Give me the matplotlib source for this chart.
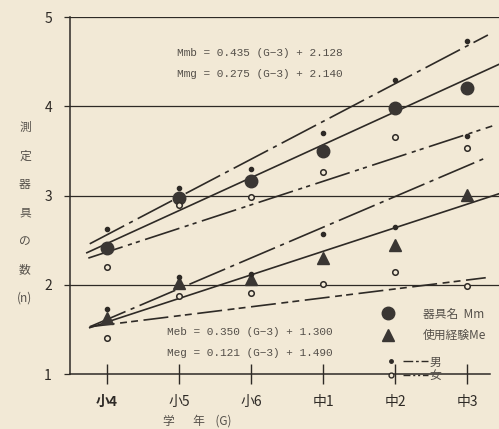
import matplotlib.pyplot as plt
from matplotlib.lines import Line2D
from matplotlib.legend_handler import HandlerTuple

plt.rcParams['font.family'] = ['Noto Sans CJK JP', 'DejaVu Sans']
plt.rcParams['lines.scale_dashes'] = False

grades = ['小4', '小5', '小6', '中1', '中2', '中3']

# measured numbers of instruments (Mm) and experience (Me), boys / all / girls
mm_boy = [2.63, 3.08, 3.30, 3.70, 4.30, 4.73]
mm_all = [2.41, 2.97, 3.16, 3.50, 3.98, 4.21]
mm_girl = [2.20, 2.89, 2.98, 3.26, 3.66, 3.53]
me_boy = [1.73, 2.09, 2.12, 2.57, 2.65, 3.67]
me_all = [1.63, 2.02, 2.07, 2.30, 2.45, 3.01]
me_girl = [1.41, 1.87, 1.91, 2.01, 2.14, 1.99]

# fitted lines, ends (grade index, value)
mmb_x, mmb_y = [-0.24, 5.29], [2.46, 4.80]
mm_x, mm_y = [-0.28, 5.44], [2.36, 4.47]
mmg_x, mmg_y = [-0.26, 5.35], [2.30, 3.78]
meb_x, meb_y = [-0.24, 5.28], [1.53, 3.43]
me_x, me_y = [-0.24, 5.44], [1.52, 3.02]
meg_x, meg_y = [-0.24, 5.26], [1.53, 2.08]

ink = '#2e2a26'
soft = '#55504a'
paper = '#f2e9d6'
boy_dash = (28, 4, 3, 4)
girl_dash = (26, 4, 3, 3, 3, 4)

fig = plt.figure(figsize=(4.99, 4.29), dpi=100, facecolor=paper)
ax = fig.add_axes([0.1403, 0.128, 0.8597, 0.832])
ax.set_facecolor(paper)
x = list(range(len(grades)))

for v in [2, 3, 4, 5]:
    ax.axhline(v, color=ink, lw=0.9, zorder=1)

ax.plot(mmb_x, mmb_y, color=ink, lw=1.2, dashes=boy_dash)
ax.plot(mm_x, mm_y, color=ink, lw=1.2)
ax.plot(mmg_x, mmg_y, color=ink, lw=1.2, dashes=girl_dash)
ax.plot(meb_x, meb_y, color=ink, lw=1.2, dashes=boy_dash)
ax.plot(me_x, me_y, color=ink, lw=1.2)
ax.plot(meg_x, meg_y, color=ink, lw=1.2, dashes=(18, 4, 5, 3, 5, 4))

ax.plot(x, mm_all, 'o', color='#3a3633', ms=9, zorder=4)
ax.plot(x, me_all, '^', color='#3a3633', ms=8, zorder=4)
ax.plot(x, mm_boy, 'o', color=ink, ms=3, zorder=5)
ax.plot(x, me_boy, 'o', color=ink, ms=3, zorder=5)
ax.plot(x, mm_girl, 'o', mfc=paper, mec=ink, mew=1.1, ms=4, zorder=5)
ax.plot(x, me_girl, 'o', mfc=paper, mec=ink, mew=1.1, ms=4, zorder=5)

ax.set_xlim(-0.514, 5.444)
ax.set_ylim(1, 5)
ax.set_yticks([1, 2, 3, 4, 5])
ax.set_xticks(x)
ax.set_xticklabels(grades)
ax.get_xticklabels()[0].set_fontweight('bold')
for s in ['top', 'right']:
    ax.spines[s].set_visible(False)
ax.spines['left'].set_color(ink)
ax.spines['bottom'].set_color(ink)
ax.spines['left'].set_linewidth(1.1)
ax.spines['bottom'].set_linewidth(1.1)
ax.spines['bottom'].set_bounds(-0.514, 5.32)
ax.tick_params(axis='y', direction='out', length=4, width=0.9, pad=9,
               labelsize=10, colors=ink)
ax.tick_params(axis='x', direction='inout', length=14, width=1, pad=8,
               labelsize=10, colors=ink)

fig.text(0.05, 1 - 213 / 429, '測\n定\n器\n具\nの\n数\n(n)', ha='center',
         va='center', fontsize=8.5, linespacing=2.55, color=soft)
fig.text(0.395, 1 - 421 / 429, '学       年    (G)', ha='center', va='center',
         fontsize=8.5, color=soft)

eq = dict(fontsize=8, va='center', color=soft,
          family=['Liberation Mono', 'DejaVu Sans Mono'])
fig.text(177 / 499, 1 - 53 / 429, 'Mmb = 0.435 (G−3) + 2.128', **eq)
fig.text(177 / 499, 1 - 74 / 429, 'Mmg = 0.275 (G−3) + 2.140', **eq)
fig.text(167 / 499, 1 - 332 / 429, 'Meb = 0.350 (G−3) + 1.300', **eq)
fig.text(167 / 499, 1 - 353 / 429, 'Meg = 0.121 (G−3) + 1.490', **eq)

h1 = [Line2D([], [], ls='none', marker='o', color='#3a3633', ms=9),
      Line2D([], [], ls='none', marker='^', color='#3a3633', ms=8)]
leg1 = ax.legend(h1, ['器具名  Mm', '使用経験Me'], loc='upper left',
                 bbox_to_anchor=(370 / 499, 1 - 297 / 429),
                 bbox_transform=fig.transFigure, frameon=False, fontsize=8.5,
                 handlelength=1.2, handletextpad=2.4, labelspacing=0.7,
                 labelcolor=soft)
ax.add_artist(leg1)

dot_b = Line2D([], [], ls='none', marker='o', color=ink, ms=2.5)
line_b = Line2D([], [], color=ink, lw=1, dashes=(7, 2, 2, 2))
dot_g = Line2D([], [], ls='none', marker='o', mfc=paper, mec=ink, ms=3.5)
line_g = Line2D([], [], color=ink, lw=1, dashes=(5, 2, 1.5, 2, 1.5, 2))
ax.legend([(dot_b, line_b), (dot_g, line_g)], ['男', '女'], loc='upper left',
          bbox_to_anchor=(368 / 499, 1 - 345 / 429),
          bbox_transform=fig.transFigure, frameon=False, fontsize=8.5,
          handlelength=4.2, handletextpad=0.1, labelspacing=0.05,
          labelcolor=soft, handler_map={tuple: HandlerTuple(ndivide=2, pad=0)})

fig.savefig('out.png', dpi=100, facecolor=paper)
